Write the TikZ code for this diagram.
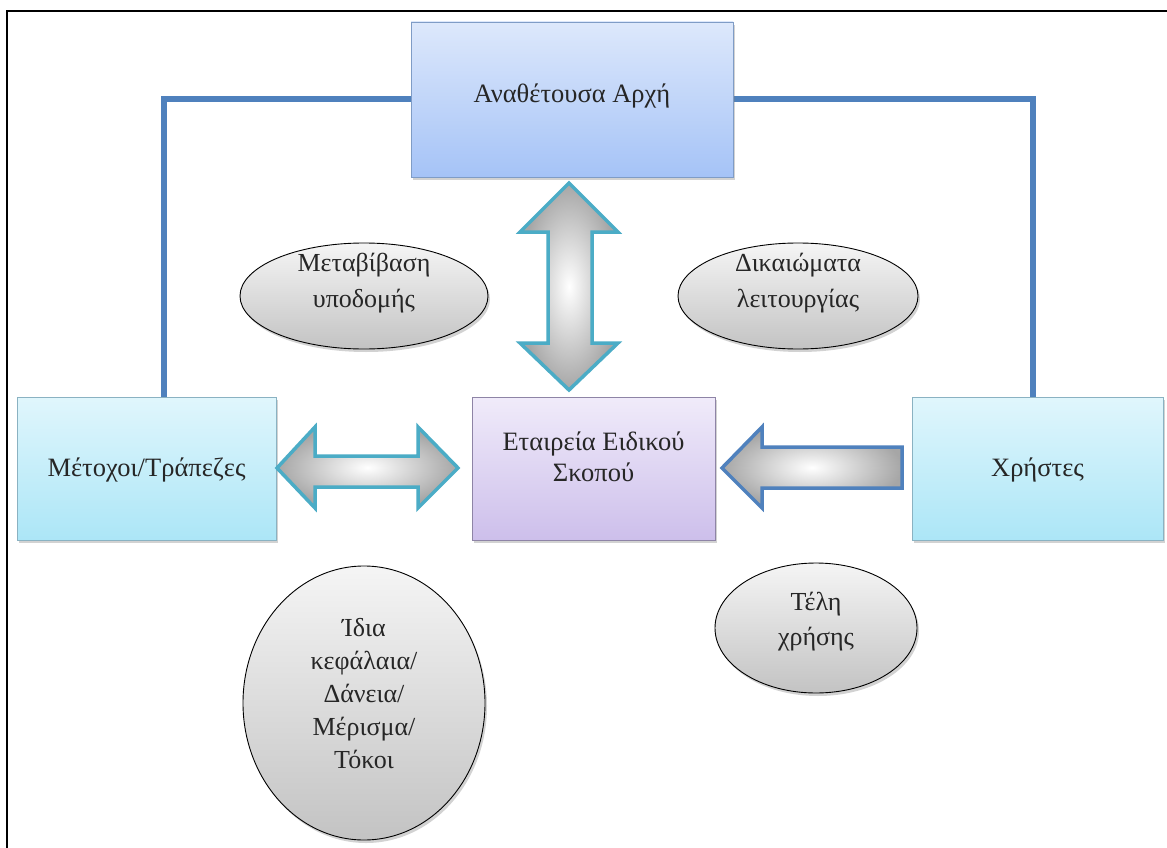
\documentclass[tikz,border=0pt]{standalone}
\usepackage{fontspec}
\setmainfont{Liberation Serif}
\usetikzlibrary{shapes.geometric,shadows,calc}
\pgfdeclarelayer{back}
\pgfsetlayers{back,main}
\definecolor{linkblue}{HTML}{4F81BD}
\definecolor{tealc}{HTML}{4BACC6}
\definecolor{txt}{HTML}{262626}
\definecolor{topA}{HTML}{DDE8FB}
\definecolor{topB}{HTML}{A5C3F7}
\definecolor{topE}{HTML}{7F9CC6}
\definecolor{sideA}{HTML}{E0F6FC}
\definecolor{sideB}{HTML}{ACE6F7}
\definecolor{sideE}{HTML}{8AB2C2}
\definecolor{midA}{HTML}{F0EBFA}
\definecolor{midB}{HTML}{CDBFEB}
\definecolor{midE}{HTML}{8E84A6}
\tikzset{
  box/.style={rectangle, inner sep=0pt, line width=0.8pt,
    drop shadow={shadow xshift=2pt, shadow yshift=-3pt, opacity=0.35}},
  topbox/.style={box, draw=topE, top color=topA, bottom color=topB},
  sidebox/.style={box, draw=sideE, top color=sideA, bottom color=sideB},
  midbox/.style={box, draw=midE, top color=midA, bottom color=midB},
  lbl/.style={text=txt, align=center, font=\fontsize{26.5}{31}\selectfont},
  ovallbl/.style={text=txt, align=center, font=\fontsize{26}{36}\selectfont},
  oval/.style={ellipse, draw=black, line width=0.9pt, inner sep=0pt,
    top color=gray!8, bottom color=gray!47,
    drop shadow={shadow xshift=2pt, shadow yshift=-3pt, opacity=0.35}},
  blockarrow/.style={line width=3.5pt, line join=miter, shading=radial,
    inner color=white, outer color=gray!70},
  link/.style={draw=linkblue, line width=6pt, line join=miter}
}
\begin{document}
\begin{tikzpicture}[x=1pt,y=-1pt]
\useasboundingbox (0,0) rectangle (1167,848);
\begin{pgfonlayer}{back}
\fill[white] (0,0) rectangle (1167,848);
\end{pgfonlayer}
\draw[line width=2.5pt] (7,848) -- (7,11) -- (1167,11);

% boxes
\node[topbox, minimum width=322pt, minimum height=155pt] (top) at (572,99.5) {};
\node[sidebox, minimum width=259pt, minimum height=143pt] (left) at (146.5,468.5) {};
\node[midbox, minimum width=243pt, minimum height=143pt] (spv) at (593.5,468.5) {};
\node[sidebox, minimum width=251pt, minimum height=143pt] (right) at (1037.5,468.5) {};

% connectors
\begin{pgfonlayer}{back}
\path[link] ($(left.north)+(17,0)$) |- (top.west);
\path[link] ($(right.north)+(-5,0)$) |- (top.east);
\end{pgfonlayer}

% labels
\node[lbl] (topt) at ($(top.center)+(0,-4)$) {Αναθέτουσα Αρχή};
\node[lbl] (leftt) at ($(left.center)+(0,1)$) {Μέτοχοι/Τράπεζες};
\node[lbl] (spvt) at ($(spv.center)+(0,-12)$) {Εταιρεία Ειδικού\\Σκοπού};
\node[lbl] (rightt) at ($(right.center)+(0,1)$) {Χρήστες};

% block arrows
\draw[blockarrow, draw=tealc]
  (569,183) -- (618,232) -- (592,232) -- (592,343) -- (618,343) -- (569,390)
  -- (520,343) -- (548,343) -- (548,232) -- (520,232) -- cycle;
\draw[blockarrow, draw=tealc]
  (277,468) -- (315,427) -- (315,456) -- (418,456) -- (418,427) -- (458,468)
  -- (418,508) -- (418,487) -- (315,487) -- (315,508) -- cycle;
\draw[blockarrow, draw=linkblue]
  (722,468) -- (762,427) -- (762,447) -- (902,447) -- (902,488) -- (762,488)
  -- (762,508) -- cycle;

% ellipses
\node[oval, minimum width=248pt, minimum height=106pt] (e1) at (364,296) {};
\node[oval, minimum width=240pt, minimum height=106pt] (e2) at (798,296) {};
\node[oval, minimum width=242pt, minimum height=274pt] (e3) at (364,703) {};
\node[oval, minimum width=202pt, minimum height=130pt] (e4) at (816,628) {};
\node[ovallbl] (e1t) at ($(e1.center)+(0,-13)$) {Μεταβίβαση\\υποδομής};
\node[ovallbl] (e2t) at ($(e2.center)+(0,-13)$) {Δικαιώματα\\λειτουργίας};
\node[ovallbl, font=\fontsize{26}{33}\selectfont] (e3t) at ($(e3.center)+(0,-9)$) {Ίδια\\κεφάλαια/\\Δάνεια/\\Μέρισμα/\\Τόκοι};
\node[ovallbl, font=\fontsize{26}{35}\selectfont] (e4t) at ($(e4.center)+(0,-6)$) {Τέλη\\χρήσης};
\end{tikzpicture}
\end{document}
